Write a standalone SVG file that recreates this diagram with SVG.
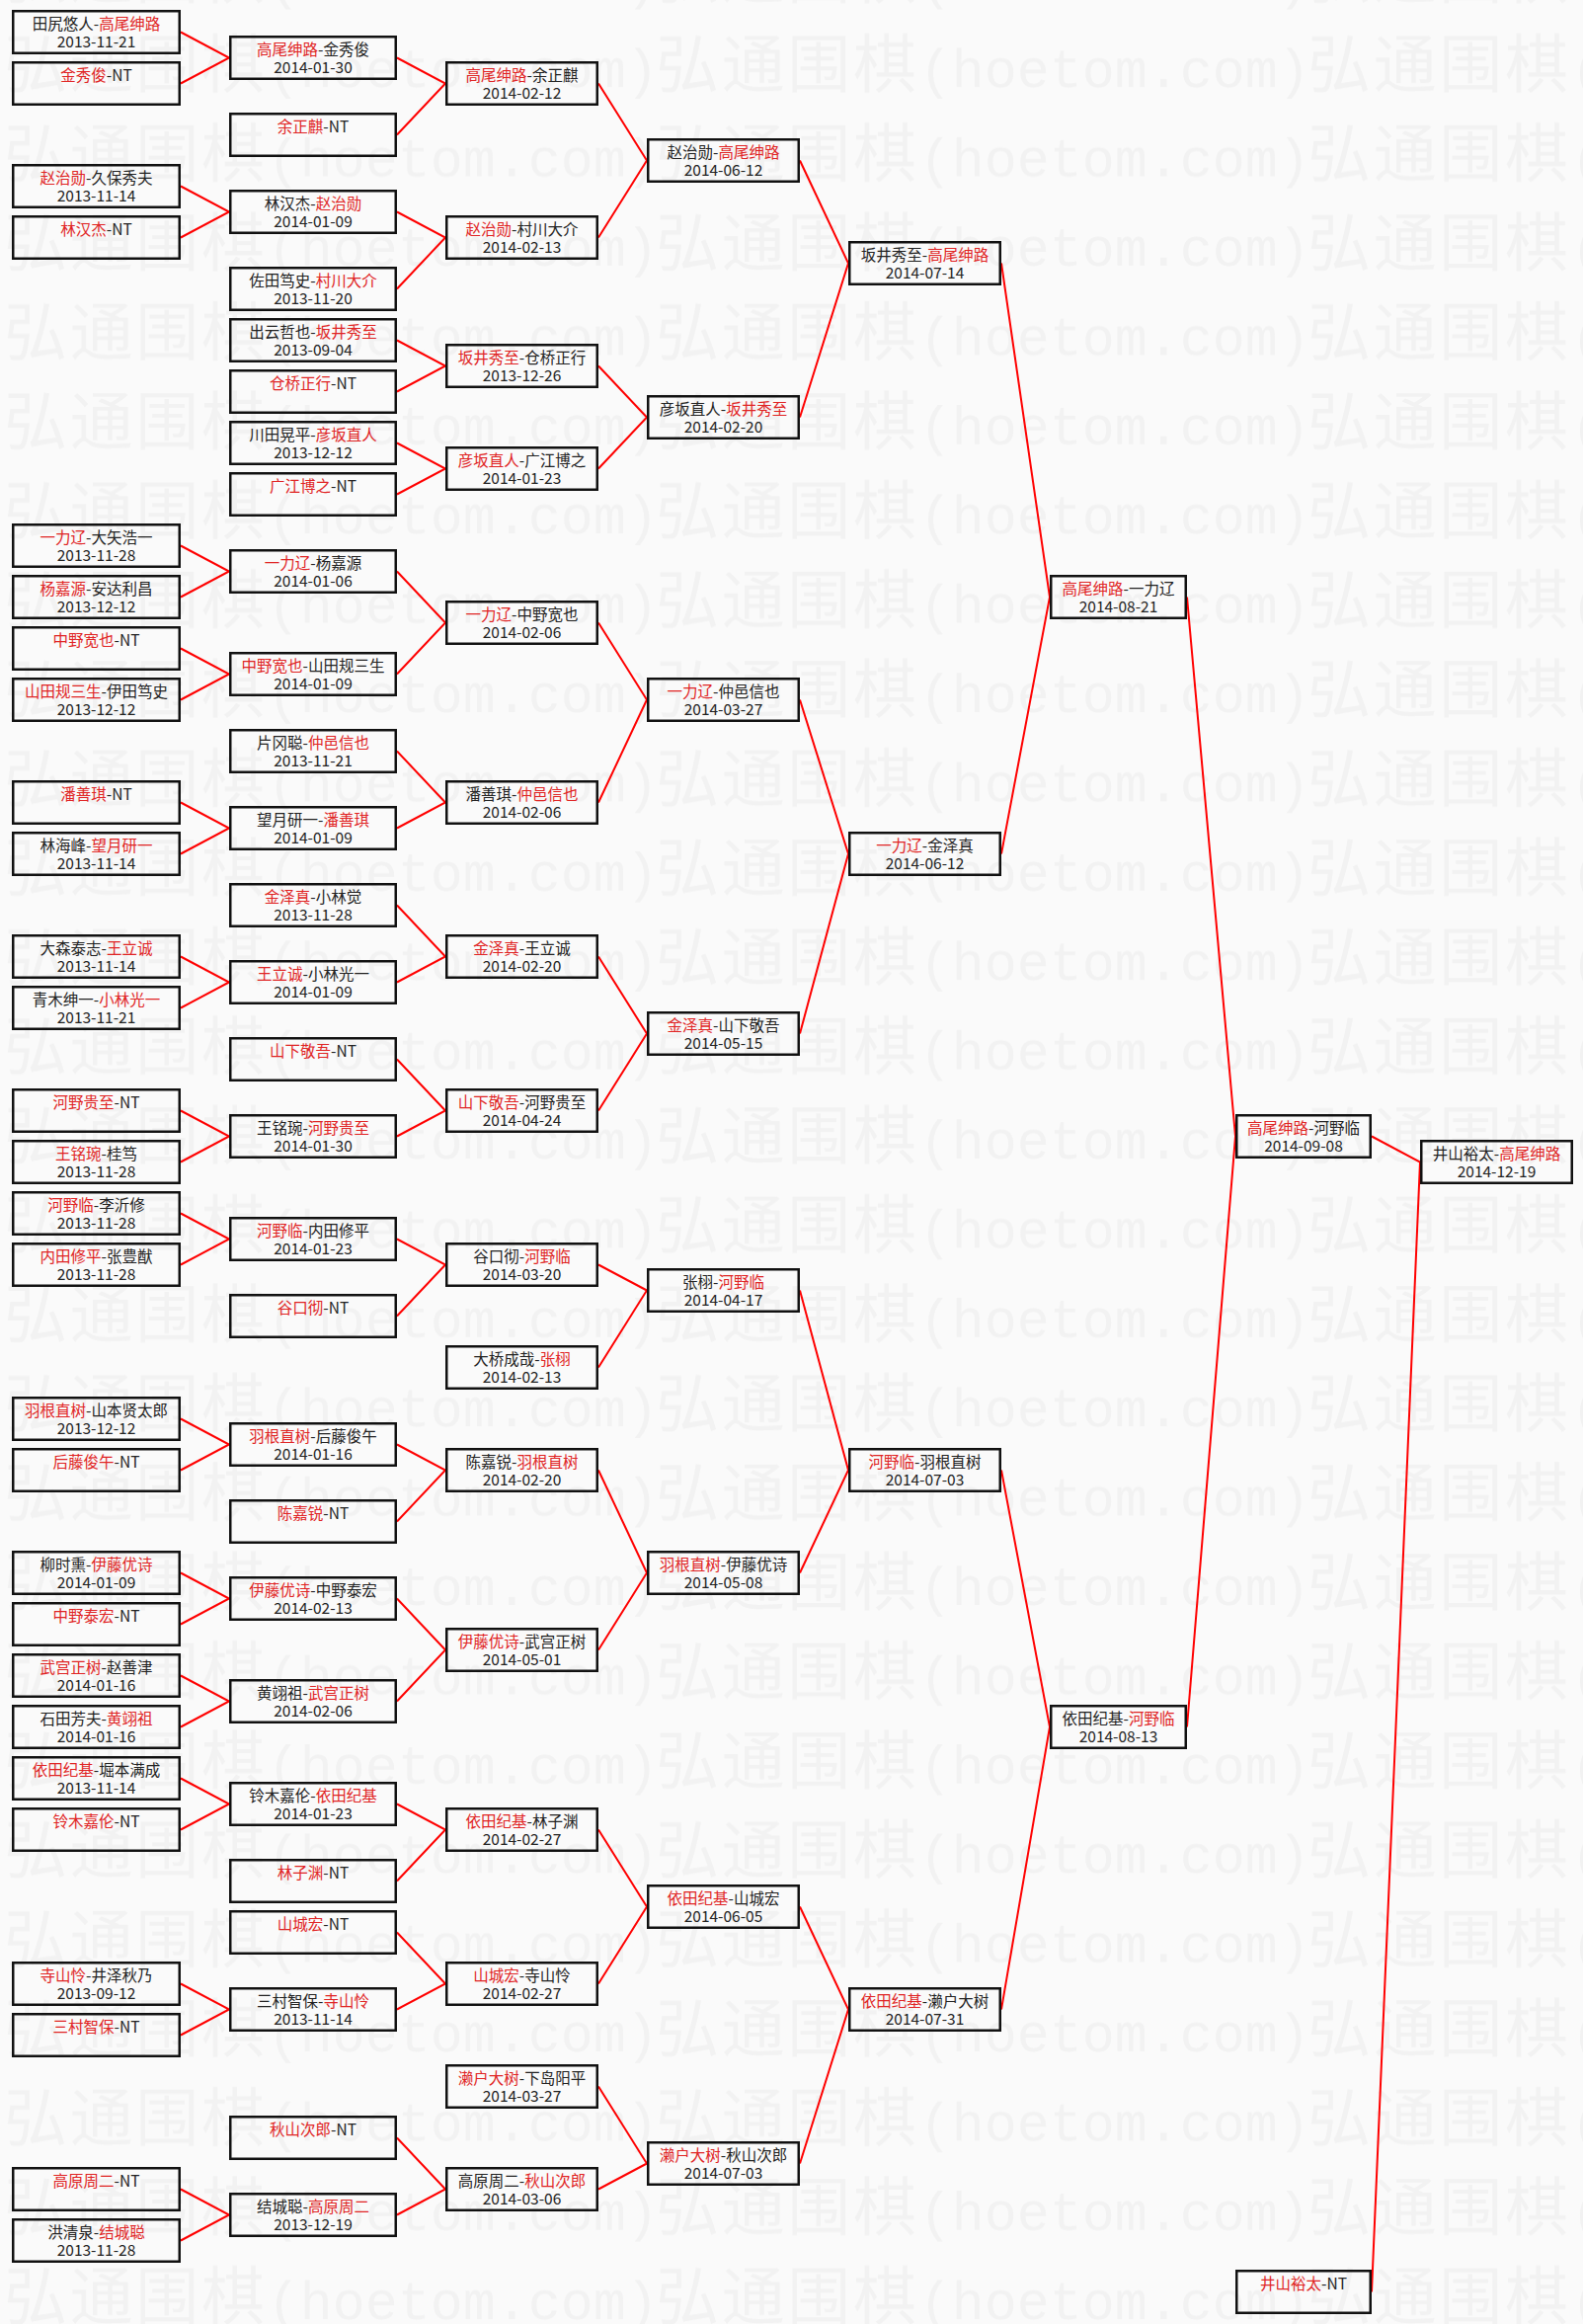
<svg xmlns="http://www.w3.org/2000/svg" width="1603" height="2353" viewBox="0 0 1603 2353">
<style>
.bg{fill:#fafafa}
.wm{fill:#f2f2f2}
.wc{font-family:"Noto Sans CJK SC",sans-serif;font-size:64px}
.wa{font-family:"Liberation Mono",monospace;font-size:55px}
.b{fill:none;stroke:#111;stroke-width:2.5}
.t,.d{font-family:"Noto Sans CJK SC","Liberation Sans",sans-serif;font-size:15.5px;fill:#222;text-anchor:middle}
.w{fill:#e02424}
.c path{fill:none;stroke:#f00;stroke-width:2}
</style>
<defs>
<pattern id="wmp" patternUnits="userSpaceOnUse" x="4" y="18.6" width="660" height="90.4">
<text class="wm" x="0" y="70"><tspan class="wc" textLength="264">弘通围棋</tspan><tspan class="wa" textLength="396">(hoetom.com)</tspan></text>
</pattern>
</defs>
<rect class="bg" width="1603" height="2353"/>
<rect width="1603" height="2353" fill="url(#wmp)"/>

<g id="connectors" class="c">
<path d="M183 32.5L232 58.5L183 84.5"/>
<path d="M183 188.5L232 214.5L183 240.5"/>
<path d="M183 552.5L232 578.5L183 604.5"/>
<path d="M183 656.5L232 682.5L183 708.5"/>
<path d="M183 812.5L232 838.5L183 864.5"/>
<path d="M183 968.5L232 994.5L183 1020.5"/>
<path d="M183 1124.5L232 1150.5L183 1176.5"/>
<path d="M183 1228.5L232 1254.5L183 1280.5"/>
<path d="M183 1436.5L232 1462.5L183 1488.5"/>
<path d="M183 1592.5L232 1618.5L183 1644.5"/>
<path d="M183 1696.5L232 1722.5L183 1748.5"/>
<path d="M183 1800.5L232 1826.5L183 1852.5"/>
<path d="M183 2008.5L232 2034.5L183 2060.5"/>
<path d="M183 2216.5L232 2242.5L183 2268.5"/>

<path d="M402 58.5L451 84.5L402 136.5"/>
<path d="M402 214.5L451 240.5L402 292.5"/>
<path d="M402 344.5L451 370.5L402 396.5"/>
<path d="M402 448.5L451 474.5L402 500.5"/>
<path d="M402 578.5L451 630.5L402 682.5"/>
<path d="M402 760.5L451 812.5L402 838.5"/>
<path d="M402 916.5L451 968.5L402 994.5"/>
<path d="M402 1072.5L451 1124.5L402 1150.5"/>
<path d="M402 1254.5L451 1280.5L402 1332.5"/>
<path d="M402 1462.5L451 1488.5L402 1540.5"/>
<path d="M402 1618.5L451 1670.5L402 1722.5"/>
<path d="M402 1826.5L451 1852.5L402 1904.5"/>
<path d="M402 1956.5L451 2008.5L402 2034.5"/>
<path d="M402 2164.5L451 2216.5L402 2242.5"/>

<path d="M606 84.5L655 162.5L606 240.5"/>
<path d="M606 370.5L655 422.5L606 474.5"/>
<path d="M606 630.5L655 708.5L606 812.5"/>
<path d="M606 968.5L655 1046.5L606 1124.5"/>
<path d="M606 1280.5L655 1306.5L606 1384.5"/>
<path d="M606 1488.5L655 1592.5L606 1670.5"/>
<path d="M606 1852.5L655 1930.5L606 2008.5"/>
<path d="M606 2112.5L655 2190.5L606 2216.5"/>

<path d="M810 162.5L859 266.5L810 422.5"/>
<path d="M810 708.5L859 864.5L810 1046.5"/>
<path d="M810 1306.5L859 1488.5L810 1592.5"/>
<path d="M810 1930.5L859 2034.5L810 2190.5"/>

<path d="M1014 266.5L1063 604.5L1014 864.5"/>
<path d="M1014 1488.5L1063 1748.5L1014 2034.5"/>

<path d="M1202 604.5L1251 1150.5L1202 1748.5"/>

<path d="M1389 1150.5L1438 1176.5L1389 2320.5"/>
</g>

<!-- Column 1 -->
<g id="r1-00" transform="translate(12,10)"><rect class="b" x="1.25" y="1.25" width="168.5" height="42.5"/><text class="t" x="85.5" y="20">田尻悠人-<tspan class="w">高尾绅路</tspan></text><text class="d" x="85.5" y="38">2013-11-21</text></g>
<g id="r1-01" transform="translate(12,62)"><rect class="b" x="1.25" y="1.25" width="168.5" height="42.5"/><text class="t" x="85.5" y="20"><tspan class="w">金秀俊</tspan>-NT</text></g>
<g id="r1-03" transform="translate(12,166)"><rect class="b" x="1.25" y="1.25" width="168.5" height="42.5"/><text class="t" x="85.5" y="20"><tspan class="w">赵治勋</tspan>-久保秀夫</text><text class="d" x="85.5" y="38">2013-11-14</text></g>
<g id="r1-04" transform="translate(12,218)"><rect class="b" x="1.25" y="1.25" width="168.5" height="42.5"/><text class="t" x="85.5" y="20"><tspan class="w">林汉杰</tspan>-NT</text></g>
<g id="r1-10" transform="translate(12,530)"><rect class="b" x="1.25" y="1.25" width="168.5" height="42.5"/><text class="t" x="85.5" y="20"><tspan class="w">一力辽</tspan>-大矢浩一</text><text class="d" x="85.5" y="38">2013-11-28</text></g>
<g id="r1-11" transform="translate(12,582)"><rect class="b" x="1.25" y="1.25" width="168.5" height="42.5"/><text class="t" x="85.5" y="20"><tspan class="w">杨嘉源</tspan>-安达利昌</text><text class="d" x="85.5" y="38">2013-12-12</text></g>
<g id="r1-12" transform="translate(12,634)"><rect class="b" x="1.25" y="1.25" width="168.5" height="42.5"/><text class="t" x="85.5" y="20"><tspan class="w">中野宽也</tspan>-NT</text></g>
<g id="r1-13" transform="translate(12,686)"><rect class="b" x="1.25" y="1.25" width="168.5" height="42.5"/><text class="t" x="85.5" y="20"><tspan class="w">山田规三生</tspan>-伊田笃史</text><text class="d" x="85.5" y="38">2013-12-12</text></g>
<g id="r1-15" transform="translate(12,790)"><rect class="b" x="1.25" y="1.25" width="168.5" height="42.5"/><text class="t" x="85.5" y="20"><tspan class="w">潘善琪</tspan>-NT</text></g>
<g id="r1-16" transform="translate(12,842)"><rect class="b" x="1.25" y="1.25" width="168.5" height="42.5"/><text class="t" x="85.5" y="20">林海峰-<tspan class="w">望月研一</tspan></text><text class="d" x="85.5" y="38">2013-11-14</text></g>
<g id="r1-18" transform="translate(12,946)"><rect class="b" x="1.25" y="1.25" width="168.5" height="42.5"/><text class="t" x="85.5" y="20">大森泰志-<tspan class="w">王立诚</tspan></text><text class="d" x="85.5" y="38">2013-11-14</text></g>
<g id="r1-19" transform="translate(12,998)"><rect class="b" x="1.25" y="1.25" width="168.5" height="42.5"/><text class="t" x="85.5" y="20">青木绅一-<tspan class="w">小林光一</tspan></text><text class="d" x="85.5" y="38">2013-11-21</text></g>
<g id="r1-21" transform="translate(12,1102)"><rect class="b" x="1.25" y="1.25" width="168.5" height="42.5"/><text class="t" x="85.5" y="20"><tspan class="w">河野贵至</tspan>-NT</text></g>
<g id="r1-22" transform="translate(12,1154)"><rect class="b" x="1.25" y="1.25" width="168.5" height="42.5"/><text class="t" x="85.5" y="20"><tspan class="w">王铭琬</tspan>-桂笃</text><text class="d" x="85.5" y="38">2013-11-28</text></g>
<g id="r1-23" transform="translate(12,1206)"><rect class="b" x="1.25" y="1.25" width="168.5" height="42.5"/><text class="t" x="85.5" y="20"><tspan class="w">河野临</tspan>-李沂修</text><text class="d" x="85.5" y="38">2013-11-28</text></g>
<g id="r1-24" transform="translate(12,1258)"><rect class="b" x="1.25" y="1.25" width="168.5" height="42.5"/><text class="t" x="85.5" y="20"><tspan class="w">内田修平</tspan>-张豊猷</text><text class="d" x="85.5" y="38">2013-11-28</text></g>
<g id="r1-27" transform="translate(12,1414)"><rect class="b" x="1.25" y="1.25" width="168.5" height="42.5"/><text class="t" x="85.5" y="20"><tspan class="w">羽根直树</tspan>-山本贤太郎</text><text class="d" x="85.5" y="38">2013-12-12</text></g>
<g id="r1-28" transform="translate(12,1466)"><rect class="b" x="1.25" y="1.25" width="168.5" height="42.5"/><text class="t" x="85.5" y="20"><tspan class="w">后藤俊午</tspan>-NT</text></g>
<g id="r1-30" transform="translate(12,1570)"><rect class="b" x="1.25" y="1.25" width="168.5" height="42.5"/><text class="t" x="85.5" y="20">柳时熏-<tspan class="w">伊藤优诗</tspan></text><text class="d" x="85.5" y="38">2014-01-09</text></g>
<g id="r1-31" transform="translate(12,1622)"><rect class="b" x="1.25" y="1.25" width="168.5" height="42.5"/><text class="t" x="85.5" y="20"><tspan class="w">中野泰宏</tspan>-NT</text></g>
<g id="r1-32" transform="translate(12,1674)"><rect class="b" x="1.25" y="1.25" width="168.5" height="42.5"/><text class="t" x="85.5" y="20"><tspan class="w">武宫正树</tspan>-赵善津</text><text class="d" x="85.5" y="38">2014-01-16</text></g>
<g id="r1-33" transform="translate(12,1726)"><rect class="b" x="1.25" y="1.25" width="168.5" height="42.5"/><text class="t" x="85.5" y="20">石田芳夫-<tspan class="w">黄翊祖</tspan></text><text class="d" x="85.5" y="38">2014-01-16</text></g>
<g id="r1-34" transform="translate(12,1778)"><rect class="b" x="1.25" y="1.25" width="168.5" height="42.5"/><text class="t" x="85.5" y="20"><tspan class="w">依田纪基</tspan>-堀本满成</text><text class="d" x="85.5" y="38">2013-11-14</text></g>
<g id="r1-35" transform="translate(12,1830)"><rect class="b" x="1.25" y="1.25" width="168.5" height="42.5"/><text class="t" x="85.5" y="20"><tspan class="w">铃木嘉伦</tspan>-NT</text></g>
<g id="r1-38" transform="translate(12,1986)"><rect class="b" x="1.25" y="1.25" width="168.5" height="42.5"/><text class="t" x="85.5" y="20"><tspan class="w">寺山怜</tspan>-井泽秋乃</text><text class="d" x="85.5" y="38">2013-09-12</text></g>
<g id="r1-39" transform="translate(12,2038)"><rect class="b" x="1.25" y="1.25" width="168.5" height="42.5"/><text class="t" x="85.5" y="20"><tspan class="w">三村智保</tspan>-NT</text></g>
<g id="r1-42" transform="translate(12,2194)"><rect class="b" x="1.25" y="1.25" width="168.5" height="42.5"/><text class="t" x="85.5" y="20"><tspan class="w">高原周二</tspan>-NT</text></g>
<g id="r1-43" transform="translate(12,2246)"><rect class="b" x="1.25" y="1.25" width="168.5" height="42.5"/><text class="t" x="85.5" y="20">洪清泉-<tspan class="w">结城聪</tspan></text><text class="d" x="85.5" y="38">2013-11-28</text></g>

<!-- Column 2 -->
<g id="r2-00" transform="translate(232,36)"><rect class="b" x="1.25" y="1.25" width="167.5" height="42.5"/><text class="t" x="85" y="20"><tspan class="w">高尾绅路</tspan>-金秀俊</text><text class="d" x="85" y="38">2014-01-30</text></g>
<g id="r2-02" transform="translate(232,114)"><rect class="b" x="1.25" y="1.25" width="167.5" height="42.5"/><text class="t" x="85" y="20"><tspan class="w">余正麒</tspan>-NT</text></g>
<g id="r2-03" transform="translate(232,192)"><rect class="b" x="1.25" y="1.25" width="167.5" height="42.5"/><text class="t" x="85" y="20">林汉杰-<tspan class="w">赵治勋</tspan></text><text class="d" x="85" y="38">2014-01-09</text></g>
<g id="r2-05" transform="translate(232,270)"><rect class="b" x="1.25" y="1.25" width="167.5" height="42.5"/><text class="t" x="85" y="20">佐田笃史-<tspan class="w">村川大介</tspan></text><text class="d" x="85" y="38">2013-11-20</text></g>
<g id="r2-06" transform="translate(232,322)"><rect class="b" x="1.25" y="1.25" width="167.5" height="42.5"/><text class="t" x="85" y="20">出云哲也-<tspan class="w">坂井秀至</tspan></text><text class="d" x="85" y="38">2013-09-04</text></g>
<g id="r2-07" transform="translate(232,374)"><rect class="b" x="1.25" y="1.25" width="167.5" height="42.5"/><text class="t" x="85" y="20"><tspan class="w">仓桥正行</tspan>-NT</text></g>
<g id="r2-08" transform="translate(232,426)"><rect class="b" x="1.25" y="1.25" width="167.5" height="42.5"/><text class="t" x="85" y="20">川田晃平-<tspan class="w">彦坂直人</tspan></text><text class="d" x="85" y="38">2013-12-12</text></g>
<g id="r2-09" transform="translate(232,478)"><rect class="b" x="1.25" y="1.25" width="167.5" height="42.5"/><text class="t" x="85" y="20"><tspan class="w">广江博之</tspan>-NT</text></g>
<g id="r2-10" transform="translate(232,556)"><rect class="b" x="1.25" y="1.25" width="167.5" height="42.5"/><text class="t" x="85" y="20"><tspan class="w">一力辽</tspan>-杨嘉源</text><text class="d" x="85" y="38">2014-01-06</text></g>
<g id="r2-12" transform="translate(232,660)"><rect class="b" x="1.25" y="1.25" width="167.5" height="42.5"/><text class="t" x="85" y="20"><tspan class="w">中野宽也</tspan>-山田规三生</text><text class="d" x="85" y="38">2014-01-09</text></g>
<g id="r2-14" transform="translate(232,738)"><rect class="b" x="1.25" y="1.25" width="167.5" height="42.5"/><text class="t" x="85" y="20">片冈聪-<tspan class="w">仲邑信也</tspan></text><text class="d" x="85" y="38">2013-11-21</text></g>
<g id="r2-15" transform="translate(232,816)"><rect class="b" x="1.25" y="1.25" width="167.5" height="42.5"/><text class="t" x="85" y="20">望月研一-<tspan class="w">潘善琪</tspan></text><text class="d" x="85" y="38">2014-01-09</text></g>
<g id="r2-17" transform="translate(232,894)"><rect class="b" x="1.25" y="1.25" width="167.5" height="42.5"/><text class="t" x="85" y="20"><tspan class="w">金泽真</tspan>-小林觉</text><text class="d" x="85" y="38">2013-11-28</text></g>
<g id="r2-18" transform="translate(232,972)"><rect class="b" x="1.25" y="1.25" width="167.5" height="42.5"/><text class="t" x="85" y="20"><tspan class="w">王立诚</tspan>-小林光一</text><text class="d" x="85" y="38">2014-01-09</text></g>
<g id="r2-20" transform="translate(232,1050)"><rect class="b" x="1.25" y="1.25" width="167.5" height="42.5"/><text class="t" x="85" y="20"><tspan class="w">山下敬吾</tspan>-NT</text></g>
<g id="r2-21" transform="translate(232,1128)"><rect class="b" x="1.25" y="1.25" width="167.5" height="42.5"/><text class="t" x="85" y="20">王铭琬-<tspan class="w">河野贵至</tspan></text><text class="d" x="85" y="38">2014-01-30</text></g>
<g id="r2-23" transform="translate(232,1232)"><rect class="b" x="1.25" y="1.25" width="167.5" height="42.5"/><text class="t" x="85" y="20"><tspan class="w">河野临</tspan>-内田修平</text><text class="d" x="85" y="38">2014-01-23</text></g>
<g id="r2-25" transform="translate(232,1310)"><rect class="b" x="1.25" y="1.25" width="167.5" height="42.5"/><text class="t" x="85" y="20"><tspan class="w">谷口彻</tspan>-NT</text></g>
<g id="r2-27" transform="translate(232,1440)"><rect class="b" x="1.25" y="1.25" width="167.5" height="42.5"/><text class="t" x="85" y="20"><tspan class="w">羽根直树</tspan>-后藤俊午</text><text class="d" x="85" y="38">2014-01-16</text></g>
<g id="r2-29" transform="translate(232,1518)"><rect class="b" x="1.25" y="1.25" width="167.5" height="42.5"/><text class="t" x="85" y="20"><tspan class="w">陈嘉锐</tspan>-NT</text></g>
<g id="r2-30" transform="translate(232,1596)"><rect class="b" x="1.25" y="1.25" width="167.5" height="42.5"/><text class="t" x="85" y="20"><tspan class="w">伊藤优诗</tspan>-中野泰宏</text><text class="d" x="85" y="38">2014-02-13</text></g>
<g id="r2-32" transform="translate(232,1700)"><rect class="b" x="1.25" y="1.25" width="167.5" height="42.5"/><text class="t" x="85" y="20">黄翊祖-<tspan class="w">武宫正树</tspan></text><text class="d" x="85" y="38">2014-02-06</text></g>
<g id="r2-34" transform="translate(232,1804)"><rect class="b" x="1.25" y="1.25" width="167.5" height="42.5"/><text class="t" x="85" y="20">铃木嘉伦-<tspan class="w">依田纪基</tspan></text><text class="d" x="85" y="38">2014-01-23</text></g>
<g id="r2-36" transform="translate(232,1882)"><rect class="b" x="1.25" y="1.25" width="167.5" height="42.5"/><text class="t" x="85" y="20"><tspan class="w">林子渊</tspan>-NT</text></g>
<g id="r2-37" transform="translate(232,1934)"><rect class="b" x="1.25" y="1.25" width="167.5" height="42.5"/><text class="t" x="85" y="20"><tspan class="w">山城宏</tspan>-NT</text></g>
<g id="r2-38" transform="translate(232,2012)"><rect class="b" x="1.25" y="1.25" width="167.5" height="42.5"/><text class="t" x="85" y="20">三村智保-<tspan class="w">寺山怜</tspan></text><text class="d" x="85" y="38">2013-11-14</text></g>
<g id="r2-41" transform="translate(232,2142)"><rect class="b" x="1.25" y="1.25" width="167.5" height="42.5"/><text class="t" x="85" y="20"><tspan class="w">秋山次郎</tspan>-NT</text></g>
<g id="r2-42" transform="translate(232,2220)"><rect class="b" x="1.25" y="1.25" width="167.5" height="42.5"/><text class="t" x="85" y="20">结城聪-<tspan class="w">高原周二</tspan></text><text class="d" x="85" y="38">2013-12-19</text></g>

<!-- Column 3 -->
<g id="r3-01" transform="translate(451,62)"><rect class="b" x="1.25" y="1.25" width="152.5" height="42.5"/><text class="t" x="77.5" y="20"><tspan class="w">高尾绅路</tspan>-余正麒</text><text class="d" x="77.5" y="38">2014-02-12</text></g>
<g id="r3-04" transform="translate(451,218)"><rect class="b" x="1.25" y="1.25" width="152.5" height="42.5"/><text class="t" x="77.5" y="20"><tspan class="w">赵治勋</tspan>-村川大介</text><text class="d" x="77.5" y="38">2014-02-13</text></g>
<g id="r3-06" transform="translate(451,348)"><rect class="b" x="1.25" y="1.25" width="152.5" height="42.5"/><text class="t" x="77.5" y="20"><tspan class="w">坂井秀至</tspan>-仓桥正行</text><text class="d" x="77.5" y="38">2013-12-26</text></g>
<g id="r3-08" transform="translate(451,452)"><rect class="b" x="1.25" y="1.25" width="152.5" height="42.5"/><text class="t" x="77.5" y="20"><tspan class="w">彦坂直人</tspan>-广江博之</text><text class="d" x="77.5" y="38">2014-01-23</text></g>
<g id="r3-11" transform="translate(451,608)"><rect class="b" x="1.25" y="1.25" width="152.5" height="42.5"/><text class="t" x="77.5" y="20"><tspan class="w">一力辽</tspan>-中野宽也</text><text class="d" x="77.5" y="38">2014-02-06</text></g>
<g id="r3-15" transform="translate(451,790)"><rect class="b" x="1.25" y="1.25" width="152.5" height="42.5"/><text class="t" x="77.5" y="20">潘善琪-<tspan class="w">仲邑信也</tspan></text><text class="d" x="77.5" y="38">2014-02-06</text></g>
<g id="r3-18" transform="translate(451,946)"><rect class="b" x="1.25" y="1.25" width="152.5" height="42.5"/><text class="t" x="77.5" y="20"><tspan class="w">金泽真</tspan>-王立诚</text><text class="d" x="77.5" y="38">2014-02-20</text></g>
<g id="r3-21" transform="translate(451,1102)"><rect class="b" x="1.25" y="1.25" width="152.5" height="42.5"/><text class="t" x="77.5" y="20"><tspan class="w">山下敬吾</tspan>-河野贵至</text><text class="d" x="77.5" y="38">2014-04-24</text></g>
<g id="r3-24" transform="translate(451,1258)"><rect class="b" x="1.25" y="1.25" width="152.5" height="42.5"/><text class="t" x="77.5" y="20">谷口彻-<tspan class="w">河野临</tspan></text><text class="d" x="77.5" y="38">2014-03-20</text></g>
<g id="r3-26" transform="translate(451,1362)"><rect class="b" x="1.25" y="1.25" width="152.5" height="42.5"/><text class="t" x="77.5" y="20">大桥成哉-<tspan class="w">张栩</tspan></text><text class="d" x="77.5" y="38">2014-02-13</text></g>
<g id="r3-28" transform="translate(451,1466)"><rect class="b" x="1.25" y="1.25" width="152.5" height="42.5"/><text class="t" x="77.5" y="20">陈嘉锐-<tspan class="w">羽根直树</tspan></text><text class="d" x="77.5" y="38">2014-02-20</text></g>
<g id="r3-31" transform="translate(451,1648)"><rect class="b" x="1.25" y="1.25" width="152.5" height="42.5"/><text class="t" x="77.5" y="20"><tspan class="w">伊藤优诗</tspan>-武宫正树</text><text class="d" x="77.5" y="38">2014-05-01</text></g>
<g id="r3-35" transform="translate(451,1830)"><rect class="b" x="1.25" y="1.25" width="152.5" height="42.5"/><text class="t" x="77.5" y="20"><tspan class="w">依田纪基</tspan>-林子渊</text><text class="d" x="77.5" y="38">2014-02-27</text></g>
<g id="r3-38" transform="translate(451,1986)"><rect class="b" x="1.25" y="1.25" width="152.5" height="42.5"/><text class="t" x="77.5" y="20"><tspan class="w">山城宏</tspan>-寺山怜</text><text class="d" x="77.5" y="38">2014-02-27</text></g>
<g id="r3-40" transform="translate(451,2090)"><rect class="b" x="1.25" y="1.25" width="152.5" height="42.5"/><text class="t" x="77.5" y="20"><tspan class="w">濑户大树</tspan>-下岛阳平</text><text class="d" x="77.5" y="38">2014-03-27</text></g>
<g id="r3-42" transform="translate(451,2194)"><rect class="b" x="1.25" y="1.25" width="152.5" height="42.5"/><text class="t" x="77.5" y="20">高原周二-<tspan class="w">秋山次郎</tspan></text><text class="d" x="77.5" y="38">2014-03-06</text></g>

<!-- Column 4 -->
<g id="r4-02" transform="translate(655,140)"><rect class="b" x="1.25" y="1.25" width="152.5" height="42.5"/><text class="t" x="77.5" y="20">赵治勋-<tspan class="w">高尾绅路</tspan></text><text class="d" x="77.5" y="38">2014-06-12</text></g>
<g id="r4-07" transform="translate(655,400)"><rect class="b" x="1.25" y="1.25" width="152.5" height="42.5"/><text class="t" x="77.5" y="20">彦坂直人-<tspan class="w">坂井秀至</tspan></text><text class="d" x="77.5" y="38">2014-02-20</text></g>
<g id="r4-13" transform="translate(655,686)"><rect class="b" x="1.25" y="1.25" width="152.5" height="42.5"/><text class="t" x="77.5" y="20"><tspan class="w">一力辽</tspan>-仲邑信也</text><text class="d" x="77.5" y="38">2014-03-27</text></g>
<g id="r4-19" transform="translate(655,1024)"><rect class="b" x="1.25" y="1.25" width="152.5" height="42.5"/><text class="t" x="77.5" y="20"><tspan class="w">金泽真</tspan>-山下敬吾</text><text class="d" x="77.5" y="38">2014-05-15</text></g>
<g id="r4-24" transform="translate(655,1284)"><rect class="b" x="1.25" y="1.25" width="152.5" height="42.5"/><text class="t" x="77.5" y="20">张栩-<tspan class="w">河野临</tspan></text><text class="d" x="77.5" y="38">2014-04-17</text></g>
<g id="r4-30" transform="translate(655,1570)"><rect class="b" x="1.25" y="1.25" width="152.5" height="42.5"/><text class="t" x="77.5" y="20"><tspan class="w">羽根直树</tspan>-伊藤优诗</text><text class="d" x="77.5" y="38">2014-05-08</text></g>
<g id="r4-36" transform="translate(655,1908)"><rect class="b" x="1.25" y="1.25" width="152.5" height="42.5"/><text class="t" x="77.5" y="20"><tspan class="w">依田纪基</tspan>-山城宏</text><text class="d" x="77.5" y="38">2014-06-05</text></g>
<g id="r4-41" transform="translate(655,2168)"><rect class="b" x="1.25" y="1.25" width="152.5" height="42.5"/><text class="t" x="77.5" y="20"><tspan class="w">濑户大树</tspan>-秋山次郎</text><text class="d" x="77.5" y="38">2014-07-03</text></g>

<!-- Column 5 -->
<g id="r5-04" transform="translate(859,244)"><rect class="b" x="1.25" y="1.25" width="152.5" height="42.5"/><text class="t" x="77.5" y="20">坂井秀至-<tspan class="w">高尾绅路</tspan></text><text class="d" x="77.5" y="38">2014-07-14</text></g>
<g id="r5-16" transform="translate(859,842)"><rect class="b" x="1.25" y="1.25" width="152.5" height="42.5"/><text class="t" x="77.5" y="20"><tspan class="w">一力辽</tspan>-金泽真</text><text class="d" x="77.5" y="38">2014-06-12</text></g>
<g id="r5-28" transform="translate(859,1466)"><rect class="b" x="1.25" y="1.25" width="152.5" height="42.5"/><text class="t" x="77.5" y="20"><tspan class="w">河野临</tspan>-羽根直树</text><text class="d" x="77.5" y="38">2014-07-03</text></g>
<g id="r5-38" transform="translate(859,2012)"><rect class="b" x="1.25" y="1.25" width="152.5" height="42.5"/><text class="t" x="77.5" y="20"><tspan class="w">依田纪基</tspan>-濑户大树</text><text class="d" x="77.5" y="38">2014-07-31</text></g>

<!-- Column 6 -->
<g id="r6-11" transform="translate(1063,582)"><rect class="b" x="1.25" y="1.25" width="136.5" height="42.5"/><text class="t" x="69.5" y="20"><tspan class="w">高尾绅路</tspan>-一力辽</text><text class="d" x="69.5" y="38">2014-08-21</text></g>
<g id="r6-33" transform="translate(1063,1726)"><rect class="b" x="1.25" y="1.25" width="136.5" height="42.5"/><text class="t" x="69.5" y="20">依田纪基-<tspan class="w">河野临</tspan></text><text class="d" x="69.5" y="38">2014-08-13</text></g>

<!-- Column 7 -->
<g id="r7-21" transform="translate(1251,1128)"><rect class="b" x="1.25" y="1.25" width="135.5" height="42.5"/><text class="t" x="69" y="20"><tspan class="w">高尾绅路</tspan>-河野临</text><text class="d" x="69" y="38">2014-09-08</text></g>
<g id="r7-44" transform="translate(1251,2298)"><rect class="b" x="1.25" y="1.25" width="135.5" height="42.5"/><text class="t" x="69" y="20"><tspan class="w">井山裕太</tspan>-NT</text></g>

<!-- Column 8 -->
<g id="r8-22" transform="translate(1438,1154)"><rect class="b" x="1.25" y="1.25" width="152.5" height="42.5"/><text class="t" x="77.5" y="20">井山裕太-<tspan class="w">高尾绅路</tspan></text><text class="d" x="77.5" y="38">2014-12-19</text></g>
</svg>
